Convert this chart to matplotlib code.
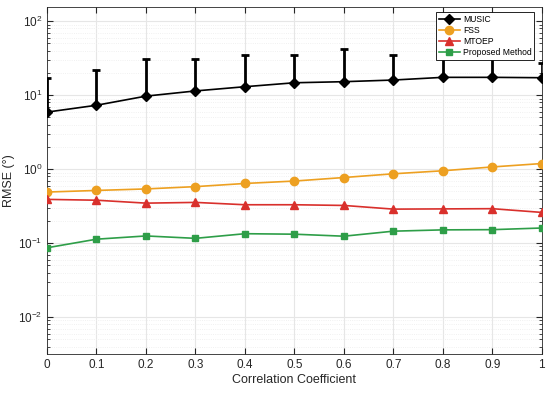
import numpy as np
import matplotlib
matplotlib.use("Agg")
import matplotlib.pyplot as plt
from matplotlib.ticker import LogLocator, NullFormatter

plt.rcParams["font.family"] = ["Liberation Sans", "DejaVu Sans"]

rho = [0, 0.1, 0.2, 0.3, 0.4, 0.5, 0.6, 0.7, 0.8, 0.9, 1.0]
music = [5.9, 7.3, 9.7, 11.4, 13.0, 14.7, 15.2, 16.0, 17.4, 17.4, 17.2]
music_upper = [17, 22, 31, 31, 34.5, 34.5, 42, 35, 39, 38, 27]
fss = [0.49, 0.515, 0.54, 0.58, 0.64, 0.69, 0.77, 0.865, 0.95, 1.07, 1.19]
mtoep = [0.39, 0.38, 0.347, 0.355, 0.33, 0.33, 0.323, 0.288, 0.29, 0.292, 0.26]
proposed = [0.0865, 0.113, 0.125, 0.116, 0.134, 0.132, 0.124, 0.145, 0.151, 0.152, 0.16]

fig = plt.figure(figsize=(5.5, 3.93), dpi=100)
ax = fig.add_axes([0.0855, 0.099, 0.8995, 0.883])

# error bars only upward (lower part falls below zero on a log axis)
err_up = np.array(music_upper) - np.array(music)
ax.errorbar(rho, music, yerr=[np.zeros(len(rho)), err_up], fmt="none", ecolor="black",
            elinewidth=2, capsize=3, capthick=2, zorder=5)
h1, = ax.plot(rho, music, color="black", lw=1.2, marker="D", ms=5, label="MUSIC", zorder=5)
h2, = ax.plot(rho, fss, color="#EDA021", lw=1.2, marker="o", ms=6, label="FSS", zorder=4)
h3, = ax.plot(rho, mtoep, color="#D9302C", lw=1.2, marker="^", ms=6, label="MTOEP", zorder=4)
h4, = ax.plot(rho, proposed, color="#2E9E48", lw=1.2, marker="s", ms=5,
              label="Proposed Method", zorder=4)

ax.set_yscale("log")
ax.set_xlim(0, 1)
ax.set_ylim(10 ** -2.5, 155)
ax.set_xticks(rho)
ax.set_xticklabels(["0", "0.1", "0.2", "0.3", "0.4", "0.5", "0.6", "0.7", "0.8", "0.9", "1"])
ax.yaxis.set_major_locator(LogLocator(base=10, numticks=10))
ax.yaxis.set_minor_locator(LogLocator(base=10, subs=np.arange(2, 10), numticks=20))
ax.yaxis.set_minor_formatter(NullFormatter())

ax.grid(True, which="major", color="#e6e6e6", lw=0.8)
ax.grid(True, which="minor", color="#ececec", lw=0.6, ls=":")
ax.set_axisbelow(True)
for s in ax.spines.values():
    s.set_color("#262626")
    s.set_linewidth(0.6)
ax.tick_params(which="both", direction="in", top=True, right=True, colors="#262626",
               labelsize=8.5)
ax.tick_params(which="major", length=4)
ax.tick_params(which="minor", length=2)

ax.set_xlabel("Correlation Coefficient", fontsize=9, color="#262626", labelpad=2)
ax.set_ylabel("RMSE (°)", fontsize=9, color="#262626", labelpad=2)

leg = ax.legend(handles=[h1, h2, h3, h4], loc="upper right", fontsize=6.2, fancybox=False,
                framealpha=1, edgecolor="black", borderpad=0.3, labelspacing=0.25,
                handlelength=2.5, handletextpad=0.3, borderaxespad=0.6,
                bbox_to_anchor=(0.995, 1.0))
leg.get_frame().set_linewidth(0.6)

fig.savefig("out.png", dpi=100)
